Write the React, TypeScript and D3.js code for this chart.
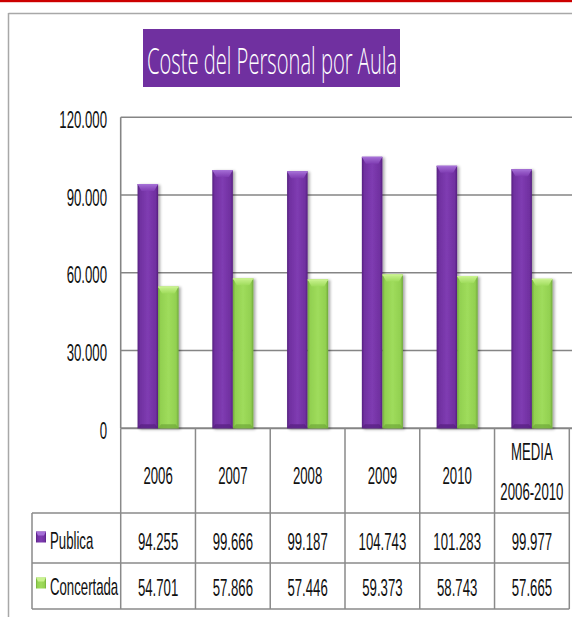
import React from "react";
import * as d3 from "d3";

const categories = ["2006", "2007", "2008", "2009", "2010", "MEDIA\n2006-2010"];
const seriesNames = ["Publica", "Concertada"];
const publica = [94255, 99666, 99187, 104743, 101283, 99977];
const concertada = [54701, 57866, 57446, 59373, 58743, 57665];
const yTicks = [0, 30000, 60000, 90000, 120000];
const title = "Coste del Personal por Aula";

const W = 572;
const H = 617;
const plotLeft = 120.7;
const plotRight = 569.3;
const plotTop = 117.3;
const plotBottom = 428.3;
const headerBottom = 513;
const row1Bottom = 563;
const row2Bottom = 609;
const legendLeft = 32;

const FONT = "'Liberation Sans', Arial, sans-serif";
const SX = 0.55;
const FS = 24;

const fmt = (v: number) => {
  if (v === 0) return "0";
  const s = d3.format(",")(v);
  return s.replace(/,/g, ".");
};

function Txt({ x, y, text, anchor = "middle", size = FS, sx = SX }: any) {
  return (
    <text
      transform={`translate(${x},${y}) scale(${sx},1)`}
      textAnchor={anchor}
      dy="0.36em"
      fontFamily={FONT}
      fontSize={size}
      fill="#111"
    >
      {text}
    </text>
  );
}

const palette = [
  { main: "#7030a0", light: "#a56fd6", dark: "#55207f", mid: "#7f3cb2" },
  { main: "#92d050", light: "#c9f28f", dark: "#6fa83a", mid: "#9fdc5c" },
];

export default function App() {
  const x = d3.scaleBand<string>().domain(categories).range([plotLeft, plotRight]).padding(0);
  const inner = d3
    .scaleBand<string>()
    .domain(seriesNames)
    .range([0, x.bandwidth()])
    .paddingOuter(0.82)
    .paddingInner(0);
  const y = d3.scaleLinear().domain([0, 120000]).range([plotBottom, plotTop]);
  const data = [publica, concertada];
  const gridColor = "#858585";
  const tableColor = "#8a8a8a";

  return (
    <svg
      width={W}
      height={H}
      style={{ position: "absolute", left: 0, top: 0, background: "#fff" }}
    >
      <defs>
        {palette.map((p, i) => (
          <linearGradient key={i} id={`g${i}`} x1="0" x2="1" y1="0" y2="0">
            <stop offset="0" stopColor={p.dark} />
            <stop offset="0.12" stopColor={p.main} />
            <stop offset="0.5" stopColor={p.mid} />
            <stop offset="0.88" stopColor={p.main} />
            <stop offset="1" stopColor={p.dark} />
          </linearGradient>
        ))}
        {palette.map((p, i) => (
          <linearGradient key={"t" + i} id={`t${i}`} x1="0" x2="0" y1="0" y2="1">
            <stop offset="0" stopColor={p.light} />
            <stop offset="1" stopColor={p.mid} />
          </linearGradient>
        ))}
        <filter id="sh" x="-30%" y="-10%" width="160%" height="120%">
          <feGaussianBlur in="SourceAlpha" stdDeviation="1.5" />
          <feOffset dx="2" dy="1" result="b" />
          <feComponentTransfer>
            <feFuncA type="linear" slope="0.35" />
          </feComponentTransfer>
          <feMerge>
            <feMergeNode />
            <feMergeNode in="SourceGraphic" />
          </feMerge>
        </filter>
      </defs>

      {/* red top line */}
      <rect x={0} y={0} width={W} height={2.2} fill="#cc0000" />
      {/* outer chart border */}
      <line x1={8.5} x2={8.5} y1={13} y2={H} stroke="#a8a8a8" strokeWidth={1.5} />
      <line x1={8.5} x2={W} y1={13.5} y2={13.5} stroke="#a8a8a8" strokeWidth={1.5} />

      {/* title */}
      <rect x={143} y={29} width={257} height={58} fill="#7030a0" />
      <text
        transform="translate(272,74) scale(0.545,1)"
        textAnchor="middle"
        fontFamily="'Open Sans', 'Noto Sans', sans-serif"
        fontWeight={300}
        fontSize={37}
        fill="#fff"
      >
        {title}
      </text>

      {/* gridlines */}
      {yTicks.map((t) => (
        <line
          key={t}
          x1={plotLeft}
          x2={W}
          y1={y(t)}
          y2={y(t)}
          stroke={gridColor}
          strokeWidth={t === 0 ? 2 : 1.6}
        />
      ))}
      <line x1={plotLeft} x2={plotLeft} y1={plotTop} y2={plotBottom} stroke={gridColor} strokeWidth={1.6} />

      {/* y-axis labels */}
      {yTicks.map((t) => (
        <Txt key={t} x={107} y={y(t) + 2} text={fmt(t)} anchor="end" />
      ))}

      {/* bars */}
      {data.map((vals, si) =>
        vals.map((v, ci) => {
          const bx = (x(categories[ci]) as number) + (inner(seriesNames[si]) as number);
          const bw = inner.bandwidth();
          const top = y(v);
          const h = plotBottom - top;
          const p = palette[si];
          return (
            <g key={`${si}-${ci}`} filter="url(#sh)">
              <rect x={bx} y={top} width={bw} height={h} fill={`url(#g${si})`} />
              <polygon
                points={`${bx},${top} ${bx + bw},${top} ${bx + bw - 4},${top + 7} ${bx + 4},${top + 7}`}
                fill={`url(#t${si})`}
              />
              <polygon
                points={`${bx},${plotBottom} ${bx + bw},${plotBottom} ${bx + bw - 3},${plotBottom - 4} ${bx + 3},${plotBottom - 4}`}
                fill={p.dark}
                opacity={0.7}
              />
              <rect x={bx} y={top} width={bw} height={1.2} fill={p.light} opacity={0.8} />
            </g>
          );
        })
      )}

      {/* table lines */}
      {categories.map((c, i) => (
        <line
          key={"v" + i}
          x1={x(c) as number}
          x2={x(c) as number}
          y1={plotBottom}
          y2={row2Bottom}
          stroke={tableColor}
          strokeWidth={1.5}
        />
      ))}
      <line x1={plotRight} x2={plotRight} y1={plotBottom} y2={row2Bottom} stroke={tableColor} strokeWidth={1.5} />
      <line x1={legendLeft} x2={legendLeft} y1={headerBottom} y2={row2Bottom} stroke={tableColor} strokeWidth={1.5} />
      {[headerBottom, row1Bottom, row2Bottom].map((ry) => (
        <line key={ry} x1={legendLeft} x2={plotRight} y1={ry} y2={ry} stroke={tableColor} strokeWidth={1.5} />
      ))}

      {/* header labels */}
      {categories.map((c) => {
        const cx = (x(c) as number) + x.bandwidth() / 2;
        const lines = c.split("\n");
        if (lines.length === 1) return <Txt key={c} x={cx} y={475} text={c} />;
        return (
          <g key={c}>
            <Txt x={cx} y={451.5} text={lines[0]} />
            <Txt x={cx} y={491} text={lines[1]} />
          </g>
        );
      })}

      {/* legend keys and labels */}
      {seriesNames.map((s, si) => {
        const ry = si === 0 ? 540.5 : 586.5;
        const p = palette[si];
        return (
          <g key={s}>
            <rect x={36} y={ry - 9} width={10} height={11} fill={`url(#g${si})`} />
            <polygon points={`36,${ry - 9} 46,${ry - 9} 44,${ry - 5} 38,${ry - 5}`} fill={p.light} />
            <Txt x={50} y={ry} text={s} anchor="start" />
          </g>
        );
      })}

      {/* values */}
      {data.map((vals, si) =>
        vals.map((v, ci) => (
          <Txt
            key={`v${si}-${ci}`}
            x={(x(categories[ci]) as number) + x.bandwidth() / 2}
            y={si === 0 ? 541 : 587}
            text={fmt(v)}
          />
        ))
      )}
    </svg>
  );
}
